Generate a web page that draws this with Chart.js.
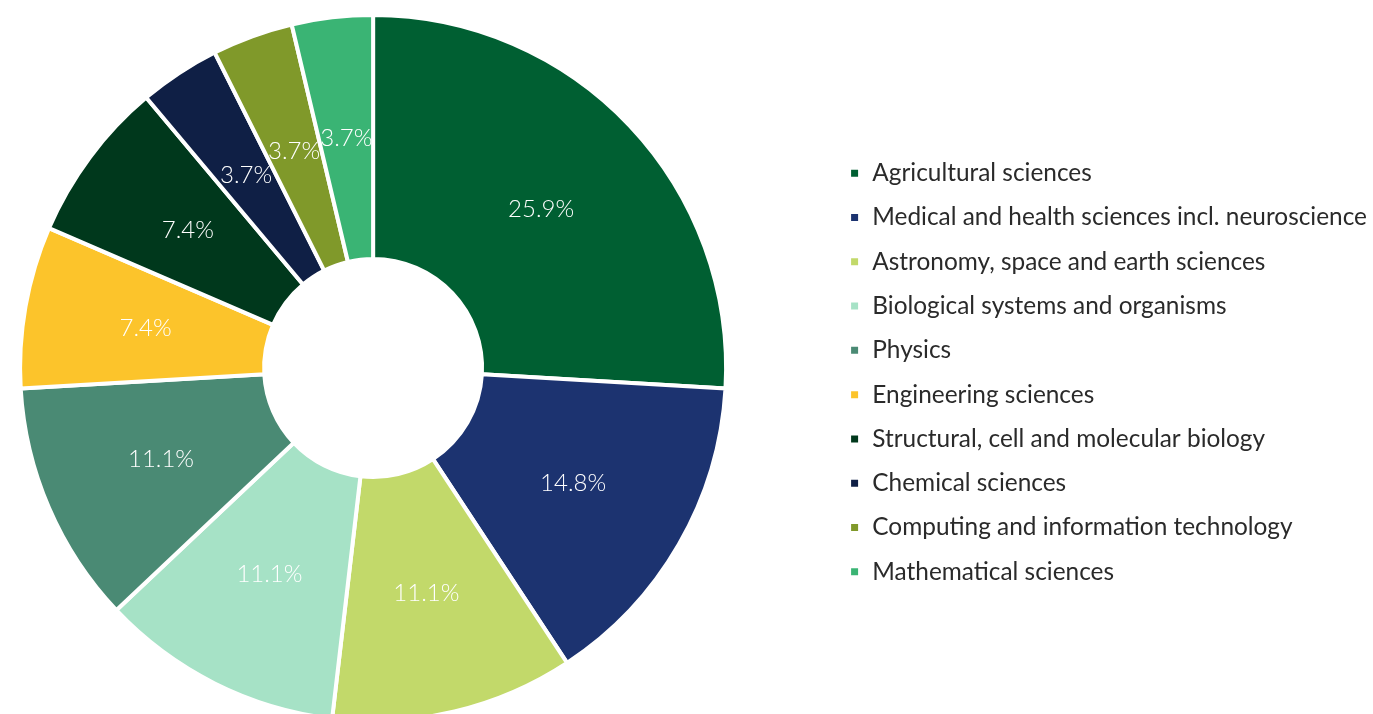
<!DOCTYPE html>
<html>
<head>
<meta charset="utf-8">
<script src="https://cdn.jsdelivr.net/npm/chart.js@4/dist/chart.umd.min.js"></script>
<style>
  html, body { margin: 0; padding: 0; background: #fff; overflow: hidden; }
  #wrap { position: absolute; left: -83px; top: 0; width: 1460px; height: 736px; }
</style>
</head>
<body>
<div id="wrap"><canvas id="chart"></canvas></div>
<script>
const categories = [
  "Agricultural sciences",
  "Medical and health sciences incl. neuroscience",
  "Astronomy, space and earth sciences",
  "Biological systems and organisms",
  "Physics",
  "Engineering sciences",
  "Structural, cell and molecular biology",
  "Chemical sciences",
  "Computing and information technology",
  "Mathematical sciences"
];
const shares = [25.9, 14.8, 11.1, 11.1, 11.1, 7.4, 7.4, 3.7, 3.7, 3.7];
const colors = [
  "#005f32", "#1c3370", "#c2d96a", "#a6e2c6", "#4a8a74",
  "#fcc42b", "#00381c", "#0f1f45", "#80992a", "#3ab474"
];

// percentage labels in the middle of each ring segment
const sliceLabels = {
  id: "sliceLabels",
  afterDatasetsDraw(chart) {
    const ctx = chart.ctx;
    const meta = chart.getDatasetMeta(0);
    ctx.save();
    ctx.fillStyle = "#ffffff";
    ctx.font = "300 24px Lato";
    ctx.textAlign = "center";
    ctx.textBaseline = "middle";
    meta.data.forEach((arc, i) => {
      const pos = arc.tooltipPosition();
      ctx.fillText(shares[i].toFixed(1) + "%", pos.x, pos.y);
    });
    ctx.restore();
  }
};

new Chart(document.getElementById("chart"), {
  type: "doughnut",
  data: {
    labels: categories,
    datasets: [{
      data: shares,
      backgroundColor: colors,
      borderColor: "#ffffff",
      borderWidth: 4
    }]
  },
  options: {
    responsive: true,
    maintainAspectRatio: false,
    animation: false,
    radius: 353,
    cutout: 113,
    layout: { padding: 0 },
    plugins: {
      legend: {
        position: "right",
        // empty title only nudges the item column down a few pixels
        title: { display: true, text: " ", font: { size: 7.5 }, padding: 0 },
        labels: {
          boxWidth: 11,
          boxHeight: 11,
          padding: 19.9,
          color: "#2a2a2a",
          font: { family: "Lato", size: 24.4 }
        }
      },
      tooltip: { enabled: false }
    }
  },
  plugins: [sliceLabels]
});
</script>
</body>
</html>
